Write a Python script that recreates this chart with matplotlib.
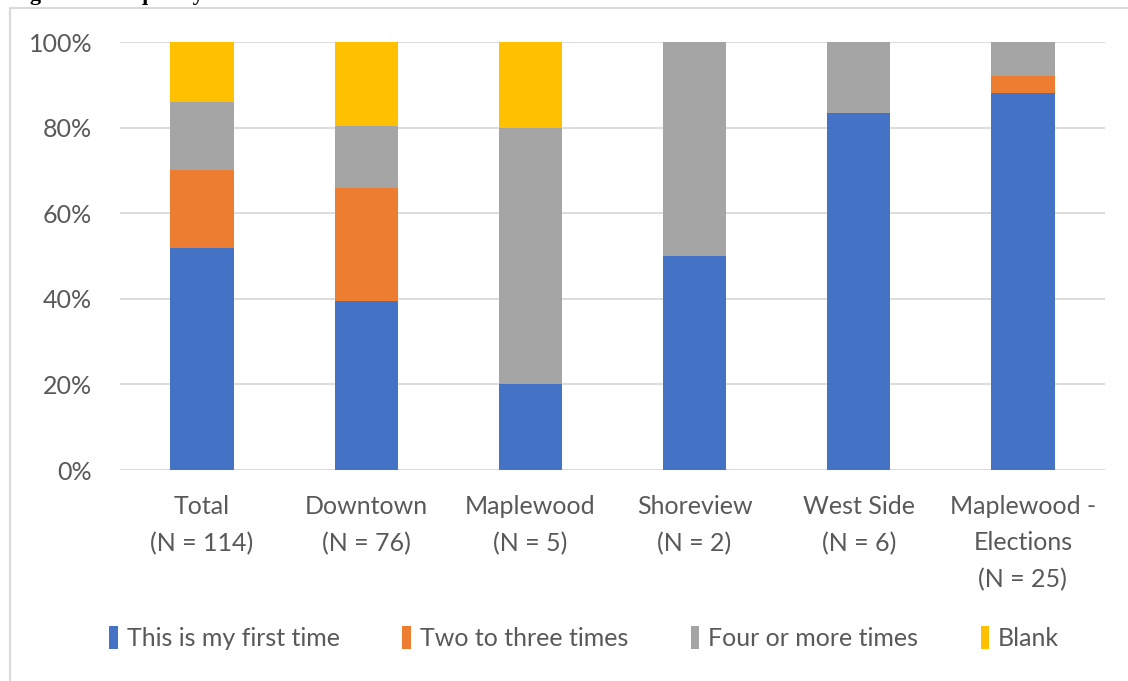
import matplotlib.pyplot as plt
import numpy as np

# percent of respondents by location
categories = ["Total\n(N = 114)", "Downtown\n(N = 76)", "Maplewood\n(N = 5)",
              "Shoreview\n(N = 2)", "West Side\n(N = 6)", "Maplewood -\nElections\n(N = 25)"]
first_time = [51.8, 39.5, 20.0, 50.0, 83.3, 88.0]
two_three = [18.4, 26.3, 0.0, 0.0, 0.0, 4.0]
four_more = [15.8, 14.5, 60.0, 50.0, 16.7, 8.0]
blank = [14.0, 19.7, 20.0, 0.0, 0.0, 0.0]

series = [("This is my first time", first_time, "#4472C4"),
          ("Two to three times", two_three, "#ED7D31"),
          ("Four or more times", four_more, "#A5A5A5"),
          ("Blank", blank, "#FFC000")]

txt = "#595959"
plt.rcParams['font.family'] = ['Lato', 'DejaVu Sans']

fig = plt.figure(figsize=(11.28, 6.81), dpi=100)
ax = fig.add_axes([0.1064, 0.3098, 0.8732, 0.6285])

x = np.arange(len(categories))
bottom = np.zeros(len(categories))
for name, vals, col in series:
    ax.bar(x, vals, width=0.385, bottom=bottom, color=col, label=name, zorder=3)
    bottom += np.array(vals)

ax.set_xlim(-0.5, 5.5)
ax.set_ylim(0, 100)
ax.set_yticks(range(0, 101, 20))
ax.set_yticklabels([f"{v}%" for v in range(0, 101, 20)])
ax.set_xticks(x)
ax.set_xticklabels(categories, linespacing=1.7)
ax.tick_params(axis='both', length=0, labelsize=18, colors=txt)
ax.tick_params(axis='x', pad=18)
ax.tick_params(axis='y', pad=20)
ax.grid(axis='y', color="#D9D9D9", linewidth=1.3, zorder=0)
for s in ax.spines.values():
    s.set_visible(False)

leg = fig.legend(loc='center', bbox_to_anchor=(0.518, 0.063), ncol=4, frameon=False,
                 fontsize=18, handlelength=0.35, handleheight=1.0, handletextpad=0.35,
                 columnspacing=2.5)
for t in leg.get_texts():
    t.set_color(txt)

# chart frame edges
fig.add_artist(plt.Line2D([10 / 1128, 10 / 1128], [0, 1 - 8 / 681], color="#D9D9D9", linewidth=1.5))
fig.add_artist(plt.Line2D([10 / 1128, 1], [1 - 8 / 681, 1 - 8 / 681], color="#D9D9D9", linewidth=1.5))

# figure caption above the chart
fig.text(10 / 1128, 1.0, "Figure 1: Frequency of Service Center Use", family="Liberation Serif",
         fontweight="bold", fontsize=16, va="baseline", ha="left", color="black")

fig.savefig("out.png", dpi=100)
